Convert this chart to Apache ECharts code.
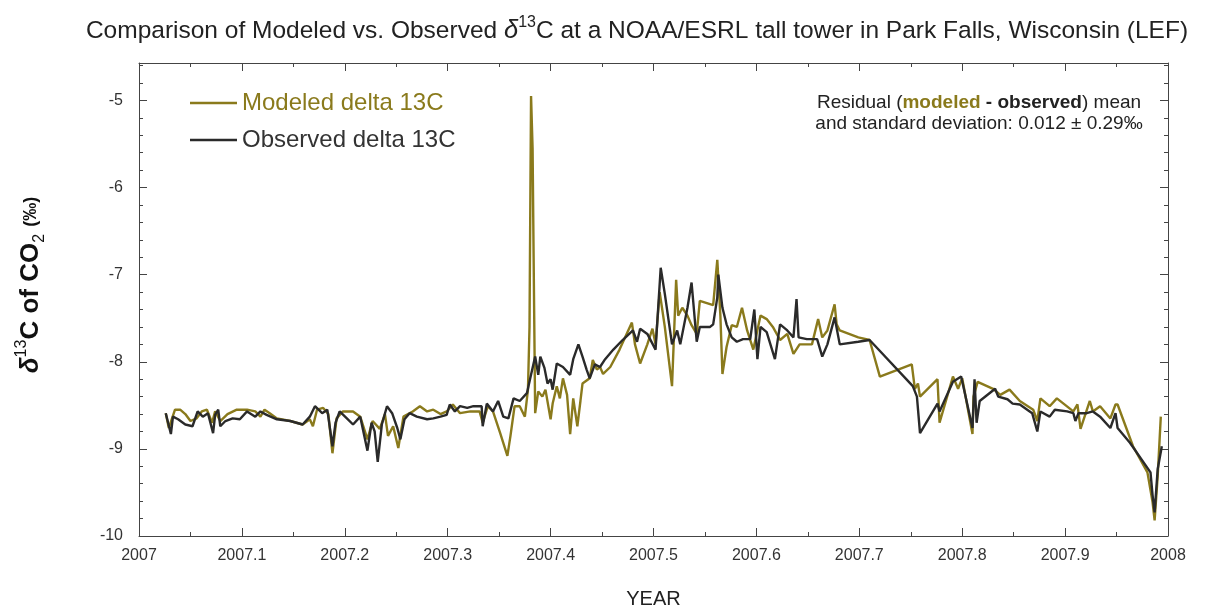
<!DOCTYPE html>
<html><head><meta charset="utf-8">
<script src="https://cdn.jsdelivr.net/npm/echarts@6/dist/echarts.min.js"></script>
<style>html,body{margin:0;padding:0;background:#fff}#c{width:1207px;height:614px}</style>
</head><body><div id="c"></div>
<script>
// ---- data ----
const xTickLabels = ['2007','2007.1','2007.2','2007.3','2007.4','2007.5','2007.6','2007.7','2007.8','2007.9','2008'];
const yTickLabels = ['-10','-9','-8','-7','-6','-5'];
const seriesNames = ['Modeled delta 13C','Observed delta 13C'];

const observedYear = [2007.026,2007.031,2007.033,2007.038,2007.045,2007.052,2007.057,2007.062,2007.067,2007.072,
2007.074,2007.077,2007.079,2007.084,2007.091,2007.098,2007.105,2007.113,2007.118,2007.124,
2007.134,2007.147,2007.159,2007.166,2007.171,2007.178,2007.183,2007.188,2007.191,2007.195,
2007.202,2007.208,2007.215,2007.222,2007.226,2007.229,2007.232,2007.236,2007.241,2007.246,
2007.251,2007.254,2007.258,2007.263,2007.270,2007.280,2007.286,2007.293,2007.299,2007.302,
2007.307,2007.312,2007.319,2007.325,2007.333,2007.334,2007.338,2007.344,2007.349,2007.354,
2007.359,2007.364,2007.370,2007.377,2007.380,2007.385,2007.388,2007.390,2007.394,2007.397,
2007.400,2007.402,2007.406,2007.412,2007.419,2007.422,2007.427,2007.431,2007.435,2007.438,
2007.443,2007.448,2007.453,2007.461,2007.470,2007.480,2007.484,2007.487,2007.494,2007.502,
2007.507,2007.511,2007.518,2007.523,2007.526,2007.533,2007.537,2007.542,2007.545,2007.555,
2007.558,2007.562,2007.563,2007.567,2007.571,2007.576,2007.581,2007.587,2007.594,2007.598,
2007.601,2007.604,2007.610,2007.618,2007.623,2007.630,2007.636,2007.639,2007.641,2007.649,
2007.659,2007.664,2007.669,2007.676,2007.681,2007.699,2007.710,2007.718,2007.752,2007.756,
2007.759,2007.776,2007.778,2007.791,2007.799,2007.810,2007.812,2007.814,2007.817,2007.832,
2007.835,2007.844,2007.849,2007.856,2007.868,2007.873,2007.876,2007.879,2007.885,2007.890,
2007.902,2007.908,2007.910,2007.913,2007.921,2007.927,2007.934,2007.944,2007.949,2007.951,
2007.963,2007.983,2007.985,2007.987,2007.990,2007.994];
const observedValue = [-8.59,-8.83,-8.63,-8.66,-8.72,-8.74,-8.57,-8.63,-8.59,-8.82,
-8.61,-8.55,-8.74,-8.68,-8.65,-8.66,-8.57,-8.63,-8.57,-8.61,
-8.66,-8.68,-8.72,-8.63,-8.51,-8.59,-8.55,-8.97,-8.70,-8.57,
-8.65,-8.72,-8.63,-9.02,-8.70,-8.80,-9.15,-8.72,-8.51,-8.59,
-8.76,-8.89,-8.66,-8.59,-8.63,-8.66,-8.65,-8.63,-8.61,-8.49,
-8.57,-8.51,-8.53,-8.51,-8.51,-8.74,-8.48,-8.57,-8.45,-8.63,
-8.65,-8.42,-8.45,-8.36,-8.20,-7.94,-8.15,-7.94,-8.07,-8.25,
-8.20,-8.32,-8.02,-8.06,-8.15,-7.97,-7.80,-7.94,-8.09,-8.19,
-8.03,-8.06,-7.97,-7.86,-7.75,-7.64,-7.77,-7.62,-7.68,-7.86,
-6.92,-7.22,-7.80,-7.64,-7.80,-7.38,-7.09,-7.77,-7.60,-7.60,
-7.57,-7.26,-7.00,-7.38,-7.57,-7.72,-7.77,-7.74,-7.74,-7.40,
-7.97,-7.60,-7.66,-7.97,-7.57,-7.64,-7.72,-7.28,-7.72,-7.74,
-7.74,-7.94,-7.80,-7.49,-7.80,-7.77,-7.75,-7.85,-8.28,-8.40,
-8.82,-8.48,-8.57,-8.23,-8.17,-8.76,-8.20,-8.70,-8.45,-8.31,
-8.40,-8.43,-8.48,-8.49,-8.59,-8.80,-8.57,-8.59,-8.63,-8.55,
-8.57,-8.59,-8.68,-8.59,-8.59,-8.57,-8.63,-8.76,-8.59,-8.76,
-8.93,-9.27,-9.53,-9.73,-9.23,-8.97];

const modeledYear = [2007.026,2007.029,2007.035,2007.040,2007.045,2007.050,2007.056,2007.061,2007.066,2007.071,
2007.074,2007.079,2007.086,2007.095,2007.105,2007.113,2007.118,2007.122,2007.127,2007.134,
2007.147,2007.159,2007.166,2007.169,2007.173,2007.179,2007.184,2007.188,2007.192,2007.198,
2007.208,2007.215,2007.222,2007.227,2007.234,2007.239,2007.242,2007.247,2007.252,2007.257,
2007.266,2007.273,2007.280,2007.286,2007.293,2007.299,2007.305,2007.312,2007.322,2007.331,
2007.334,2007.339,2007.344,2007.351,2007.358,2007.361,2007.365,2007.370,2007.375,2007.378,
2007.3795,2007.3805,2007.381,2007.3825,2007.3835,2007.385,2007.388,2007.392,2007.395,2007.400,
2007.402,2007.406,2007.409,2007.412,2007.416,2007.419,2007.422,2007.426,2007.429,2007.431,
2007.438,2007.441,2007.445,2007.448,2007.451,2007.458,2007.467,2007.479,2007.482,2007.487,
2007.494,2007.499,2007.502,2007.506,2007.511,2007.518,2007.522,2007.524,2007.528,2007.533,
2007.537,2007.542,2007.545,2007.558,2007.562,2007.565,2007.567,2007.571,2007.576,2007.581,
2007.586,2007.591,2007.597,2007.604,2007.610,2007.616,2007.623,2007.630,2007.636,2007.642,
2007.649,2007.654,2007.660,2007.664,2007.669,2007.676,2007.678,2007.681,2007.699,2007.710,
2007.720,2007.751,2007.754,2007.757,2007.759,2007.776,2007.778,2007.791,2007.796,2007.800,
2007.810,2007.811,2007.815,2007.830,2007.837,2007.846,2007.856,2007.869,2007.873,2007.876,
2007.885,2007.892,2007.908,2007.912,2007.915,2007.924,2007.927,2007.934,2007.944,2007.949,
2007.951,2007.966,2007.980,2007.985,2007.987,2007.990,2007.993];
const modeledValue = [-8.59,-8.76,-8.55,-8.55,-8.60,-8.68,-8.65,-8.57,-8.55,-8.70,
-8.57,-8.68,-8.60,-8.55,-8.55,-8.57,-8.63,-8.55,-8.59,-8.65,
-8.68,-8.72,-8.66,-8.74,-8.55,-8.53,-8.60,-9.05,-8.65,-8.57,
-8.57,-8.63,-8.89,-8.68,-8.77,-8.60,-8.85,-8.74,-8.99,-8.63,
-8.57,-8.51,-8.57,-8.55,-8.60,-8.57,-8.49,-8.59,-8.57,-8.57,
-8.70,-8.51,-8.57,-8.82,-9.08,-8.85,-8.51,-8.51,-8.63,-8.32,
-7.60,-5.80,-4.95,-5.55,-6.80,-8.59,-8.34,-8.40,-8.32,-8.66,
-8.48,-8.28,-8.42,-8.19,-8.38,-8.83,-8.42,-8.74,-8.45,-8.25,
-8.19,-7.98,-8.09,-8.06,-8.14,-8.06,-7.86,-7.55,-7.80,-8.02,
-7.80,-7.62,-7.80,-7.20,-7.60,-8.28,-7.06,-7.47,-7.38,-7.47,
-7.58,-7.68,-7.30,-7.35,-6.83,-7.47,-8.14,-7.83,-7.58,-7.60,
-7.38,-7.64,-7.86,-7.47,-7.51,-7.60,-7.75,-7.68,-7.91,-7.80,
-7.80,-7.80,-7.51,-7.72,-7.64,-7.34,-7.57,-7.64,-7.72,-7.75,
-8.17,-8.03,-8.31,-8.25,-8.40,-8.20,-8.70,-8.17,-8.31,-8.19,
-8.83,-8.40,-8.23,-8.31,-8.38,-8.32,-8.45,-8.55,-8.68,-8.42,
-8.51,-8.42,-8.57,-8.49,-8.77,-8.45,-8.57,-8.51,-8.65,-8.49,
-8.49,-8.97,-9.27,-9.61,-9.82,-9.31,-8.63];

// ---- chart ----
const FONT = '"Liberation Sans", Arial, sans-serif';
const OLIVE = '#8a7a1c';
const DARK = '#2a2a2a';
const AX = '#444';

const zip = (xs, ys) => xs.map((x, i) => [x, ys[i]]);
const labelFrom = (list) => (v) => {
  const s = list.find(t => Math.abs(parseFloat(t) - v) < 1e-6);
  return s === undefined ? '' : s;
};

const xCommon = {
  type: 'value', min: 2007, max: 2008, interval: 0.1,
  axisLine: { show: true, onZero: false, lineStyle: { color: AX, width: 1 } },
  axisTick: { show: true, inside: true, length: 8, lineStyle: { color: AX } },
  minorTick: { show: true, splitNumber: 2, length: 4, lineStyle: { color: AX } },
  splitLine: { show: false }, minorSplitLine: { show: false }
};
const yCommon = {
  type: 'value', min: -10, max: -4.57, interval: 1,
  axisLine: { show: true, onZero: false, lineStyle: { color: AX, width: 1 } },
  axisTick: { show: true, inside: true, length: 8, lineStyle: { color: AX } },
  minorTick: { show: true, splitNumber: 5, length: 4, lineStyle: { color: AX } },
  splitLine: { show: false }, minorSplitLine: { show: false }
};

const chart = echarts.init(document.getElementById('c'));
chart.setOption({
  animation: false,
  backgroundColor: '#fff',
  grid: { left: 139, right: 39, top: 63, bottom: 73, containLabel: false },
  xAxis: [
    Object.assign({}, xCommon, {
      position: 'bottom',
      axisLabel: { formatter: labelFrom(xTickLabels), fontSize: 16, color: '#333', fontFamily: FONT, margin: 12 },
      name: 'YEAR', nameLocation: 'middle', nameGap: 53,
      nameTextStyle: { fontSize: 20, color: '#222', fontFamily: FONT }
    }),
    Object.assign({}, xCommon, { position: 'top', axisLabel: { show: false } })
  ],
  yAxis: [
    Object.assign({}, yCommon, {
      position: 'left',
      axisLabel: { formatter: labelFrom(yTickLabels), fontSize: 16, color: '#333', fontFamily: FONT, margin: 16,
                   showMaxLabel: false }
    }),
    Object.assign({}, yCommon, { position: 'right', axisLabel: { show: false } })
  ],
  legend: {
    orient: 'vertical', left: 185, top: 86, itemWidth: 47, itemHeight: 2.5, itemGap: 13,
    icon: 'rect',
    textStyle: { fontSize: 24, fontFamily: FONT },
    data: [
      { name: seriesNames[0], textStyle: { color: OLIVE } },
      { name: seriesNames[1], textStyle: { color: '#333' } }
    ]
  },
  series: [
    { name: seriesNames[0], type: 'line', data: zip(modeledYear, modeledValue),
      xAxisIndex: 0, yAxisIndex: 0, symbol: 'none', showSymbol: false,
      lineStyle: { color: OLIVE, width: 2.4 }, itemStyle: { color: OLIVE }, z: 2 },
    { name: seriesNames[1], type: 'line', data: zip(observedYear, observedValue),
      xAxisIndex: 0, yAxisIndex: 0, symbol: 'none', showSymbol: false,
      lineStyle: { color: DARK, width: 2.4 }, itemStyle: { color: DARK }, z: 3 }
  ],
  graphic: [
    { type: 'text', x: 637, y: 31,
      style: {
        text: '{a|Comparison of Modeled vs. Observed }{d|δ}{s|13}{a|C at a NOAA/ESRL tall tower in Park Falls, Wisconsin (LEF)}',
        align: 'center', verticalAlign: 'middle',
        rich: {
          a: { fontSize: 24.5, fontFamily: FONT, fill: '#222', lineHeight: 32, verticalAlign: 'middle' },
          d: { fontSize: 25.5, fontFamily: FONT, fontStyle: 'italic', fill: '#222', lineHeight: 32, verticalAlign: 'middle' },
          s: { fontSize: 16, fontFamily: FONT, fill: '#222', lineHeight: 19, verticalAlign: 'top' }
        }
      }
    },
    { type: 'text', x: 979, y: 92,
      style: {
        text: '{n|Residual (}{m|modeled}{b| - observed}{n|) mean}\n{n|and standard deviation: 0.012 ± 0.29‰}',
        align: 'center',
        rich: {
          n: { fontSize: 19, fontFamily: FONT, fill: '#222', lineHeight: 21, align: 'center' },
          m: { fontSize: 19, fontFamily: FONT, fill: OLIVE, fontWeight: 'bold', lineHeight: 21 },
          b: { fontSize: 19, fontFamily: FONT, fill: '#222', fontWeight: 'bold', lineHeight: 21 }
        }
      }
    },
    { type: 'text', x: 31, y: 285, rotation: Math.PI / 2,
      style: {
        text: '{d|δ}{s|13}{n|C of CO}{u|2}{n| }{p|(‰)}',
        align: 'center', verticalAlign: 'middle',
        rich: {
          d: { fontSize: 26, fontFamily: FONT, fontWeight: 'bold', fontStyle: 'italic', fill: '#111', lineHeight: 34, verticalAlign: 'middle' },
          n: { fontSize: 26, fontFamily: FONT, fontWeight: 'bold', fill: '#111', lineHeight: 34, verticalAlign: 'middle' },
          s: { fontSize: 16, fontFamily: FONT, fill: '#111', lineHeight: 16, verticalAlign: 'top' },
          u: { fontSize: 16, fontFamily: FONT, fill: '#111', lineHeight: 16, verticalAlign: 'bottom' },
          p: { fontSize: 18, fontFamily: FONT, fontWeight: 'bold', fill: '#111', lineHeight: 34, verticalAlign: 'middle' }
        }
      }
    }
  ]
});
</script>
</body></html>
